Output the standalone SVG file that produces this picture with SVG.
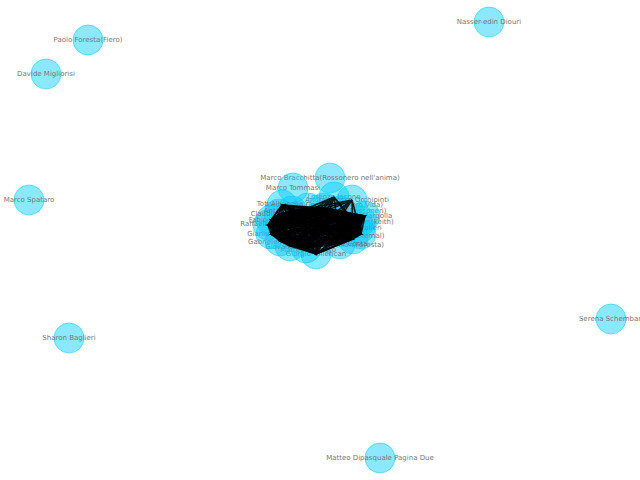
<svg xmlns="http://www.w3.org/2000/svg" width="640" height="480" viewBox="0 0 640 480">
<style>
.node circle{fill:#00ccff;fill-opacity:0.45;stroke:#00ccff;stroke-opacity:0.5;stroke-width:1}
.node text{font-family:"DejaVu Sans","Liberation Sans",sans-serif;font-size:7px;fill:#777;text-anchor:middle;dominant-baseline:central}
#edges path{fill:none;stroke:#000;stroke-opacity:0.85;stroke-width:1.6}
</style>
<rect width="640" height="480" fill="#fff"/>
<g id="nodes">
<g id="n-paolo-foresta" class="node"><circle cx="88" cy="40" r="15"/><text x="88" y="40">Paolo Foresta(Fiero)</text></g>
<g id="n-davide-migliorisi" class="node"><circle cx="46" cy="74" r="15"/><text x="46" y="74">Davide Migliorisi</text></g>
<g id="n-nasser" class="node"><circle cx="489" cy="22" r="15"/><text x="489" y="22">Nasser-edin Diouri</text></g>
<g id="n-marco-spataro" class="node"><circle cx="29" cy="200" r="15"/><text x="29" y="200">Marco Spataro</text></g>
<g id="n-sharon" class="node"><circle cx="69" cy="338" r="15"/><text x="69" y="338">Sharon Baglieri</text></g>
<g id="n-serena" class="node"><circle cx="611" cy="319" r="15"/><text x="611" y="319">Serena Schembari</text></g>
<g id="n-matteo-dipasquale" class="node"><circle cx="380" cy="458" r="15"/><text x="380" y="458">Matteo Dipasquale Pagina Due</text></g>
<g id="n1" class="node"><circle cx="330" cy="178" r="15"/><text x="330" y="178">Marco Bracchitta(Rossonero nell'anima)</text></g>
<g id="n2" class="node"><circle cx="293" cy="188" r="15"/><text x="293" y="188">Marco Tommasi</text></g>
<g id="n3" class="node"><circle cx="334" cy="197" r="15"/><text x="334" y="197">Lorenzo Iacono</text></g>
<g id="n4" class="node"><circle cx="352" cy="200" r="15"/><text x="347" y="200">Andrea Rosso Orchipinti</text></g>
<g id="p0" class="node"><circle cx="308" cy="208" r="15"/><text x="308" y="208">Davide Serra</text></g>
<g id="p1" class="node"><circle cx="324" cy="208" r="15"/><text x="324" y="205">Alessandro Conti(Rossonero Vida)</text></g>
<g id="p2" class="node"><circle cx="340" cy="211" r="15"/><text x="340" y="211">Claudio Ferrara(Rossoneri)</text></g>
<g id="p3" class="node"><circle cx="365" cy="216" r="15"/><text x="368" y="216">Luca Margolla</text></g>
<g id="p4" class="node"><circle cx="361" cy="221" r="15"/><text x="361" y="222">Simone Neri(keith)</text></g>
<g id="p5" class="node"><circle cx="360" cy="228" r="15"/><text x="356" y="228">Paolo Cavalieri</text></g>
<g id="p6" class="node"><circle cx="361" cy="234" r="15"/><text x="332" y="236">Roberto Marino(Milan Eternal)</text></g>
<g id="p7" class="node"><circle cx="353" cy="239" r="15"/><text x="333" y="245">Stefano Bruno(Milan Foresta)</text></g>
<g id="p8" class="node"><circle cx="340" cy="244" r="15"/><text x="340" y="244">Giuseppe Costa</text></g>
<g id="p9" class="node"><circle cx="316" cy="254" r="15"/><text x="316" y="254">Giorgio Tollerican</text></g>
<g id="p10" class="node"><circle cx="306" cy="248" r="15"/><text x="308" y="250">Matteo Esposito</text></g>
<g id="p11" class="node"><circle cx="290" cy="246" r="15"/><text x="290" y="247">Giovanni Ricci</text></g>
<g id="p12" class="node"><circle cx="280" cy="241" r="15"/><text x="278" y="242">Gabriele Fontana</text></g>
<g id="p13" class="node"><circle cx="271" cy="234" r="15"/><text x="271" y="234">Gianluca Villa</text></g>
<g id="p14" class="node"><circle cx="268" cy="225" r="15"/><text x="266" y="224">Raffaele Greco</text></g>
<g id="p15" class="node"><circle cx="271" cy="220" r="15"/><text x="268" y="220">Fabio Gallo</text></g>
<g id="p16" class="node"><circle cx="279" cy="214" r="15"/><text x="279" y="214">Claudio De Luca</text></g>
<g id="p17" class="node"><circle cx="282" cy="205" r="15"/><text x="280" y="204">Toti Albanese</text></g>
<g id="p18" class="node"><circle cx="292" cy="211" r="15"/><text x="292" y="211">Antonio Mancini</text></g>
<g id="q1" class="node"><circle cx="300" cy="224" r="15"/><text x="300" y="224">Francesco Bianchi</text></g>
<g id="q2" class="node"><circle cx="330" cy="228" r="15"/><text x="330" y="228">Marco Lombardo</text></g>
<g id="q3" class="node"><circle cx="316" cy="236" r="15"/><text x="316" y="236">Emanuele Riva</text></g>
<g id="q4" class="node"><circle cx="318" cy="218" r="15"/><text x="318" y="218">Salvatore Leone</text></g>
</g>
<g id="edges">
<path d="M308 208L324 208L340 211L365 216L361 221L360 228L361 234L353 239L340 244L316 254L306 248L290 246L280 241L271 234L268 225L271 220L279 214L282 205L292 211Z"/>
<path d="M308 208L340 211L361 221L361 234L340 244L306 248L280 241L268 225L279 214L292 211L324 208L365 216L360 228L353 239L316 254L290 246L271 234L271 220L282 205Z"/>
<path d="M308 208L365 216L361 234L316 254L280 241L271 220L292 211L340 211L360 228L340 244L290 246L268 225L282 205L324 208L361 221L353 239L306 248L271 234L279 214Z"/>
<path d="M308 208L361 221L340 244L280 241L279 214L324 208L360 228L316 254L271 234L282 205L340 211L361 234L306 248L268 225L292 211L365 216L353 239L290 246L271 220Z"/>
<path d="M308 208L360 228L306 248L271 220L324 208L361 234L290 246L279 214L340 211L353 239L280 241L282 205L365 216L340 244L271 234L292 211L361 221L316 254L268 225Z"/>
<path d="M308 208L361 234L280 241L292 211L360 228L290 246L282 205L361 221L306 248L279 214L365 216L316 254L271 220L340 211L340 244L268 225L324 208L353 239L271 234Z"/>
<path d="M308 208L353 239L268 225L340 211L316 254L279 214L361 221L290 246L292 211L361 234L271 234L324 208L340 244L271 220L365 216L306 248L282 205L360 228L280 241Z"/>
<path d="M308 208L340 244L279 214L360 228L271 234L340 211L306 248L292 211L353 239L271 220L361 221L280 241L324 208L316 254L282 205L361 234L268 225L365 216L290 246Z"/>
<path d="M308 208L316 254L292 211L340 244L282 205L353 239L279 214L361 234L271 220L360 228L268 225L361 221L271 234L365 216L280 241L340 211L290 246L324 208L306 248Z"/>
<path d="M334 197L340 244M334 197L316 254M334 197L306 248M334 197L290 246M334 197L280 241M334 197L271 234M334 197L268 225M334 197L360 228M334 197L361 234"/>
<path d="M352 200L316 254M352 200L290 246M352 200L271 234M352 200L268 225M352 200L279 214M352 200L353 239M352 200L361 234M352 200L306 248"/>
<path d="M300 224L340 211M300 224L365 216M300 224L360 228M300 224L361 234M300 224L353 239M300 224L340 244M300 224L316 254M300 224L361 221"/>
<path d="M330 228L280 241M330 228L271 234M330 228L268 225M330 228L271 220M330 228L279 214M330 228L282 205M330 228L292 211M330 228L308 208M330 228L290 246"/>
<path d="M316 236L308 208M316 236L324 208M316 236L340 211M316 236L282 205M316 236L292 211M316 236L279 214M316 236L365 216M316 236L271 220"/>
<path d="M318 218L316 254M318 218L306 248M318 218L290 246M318 218L340 244M318 218L280 241M318 218L353 239M318 218L271 234"/>
</g>
</svg>
